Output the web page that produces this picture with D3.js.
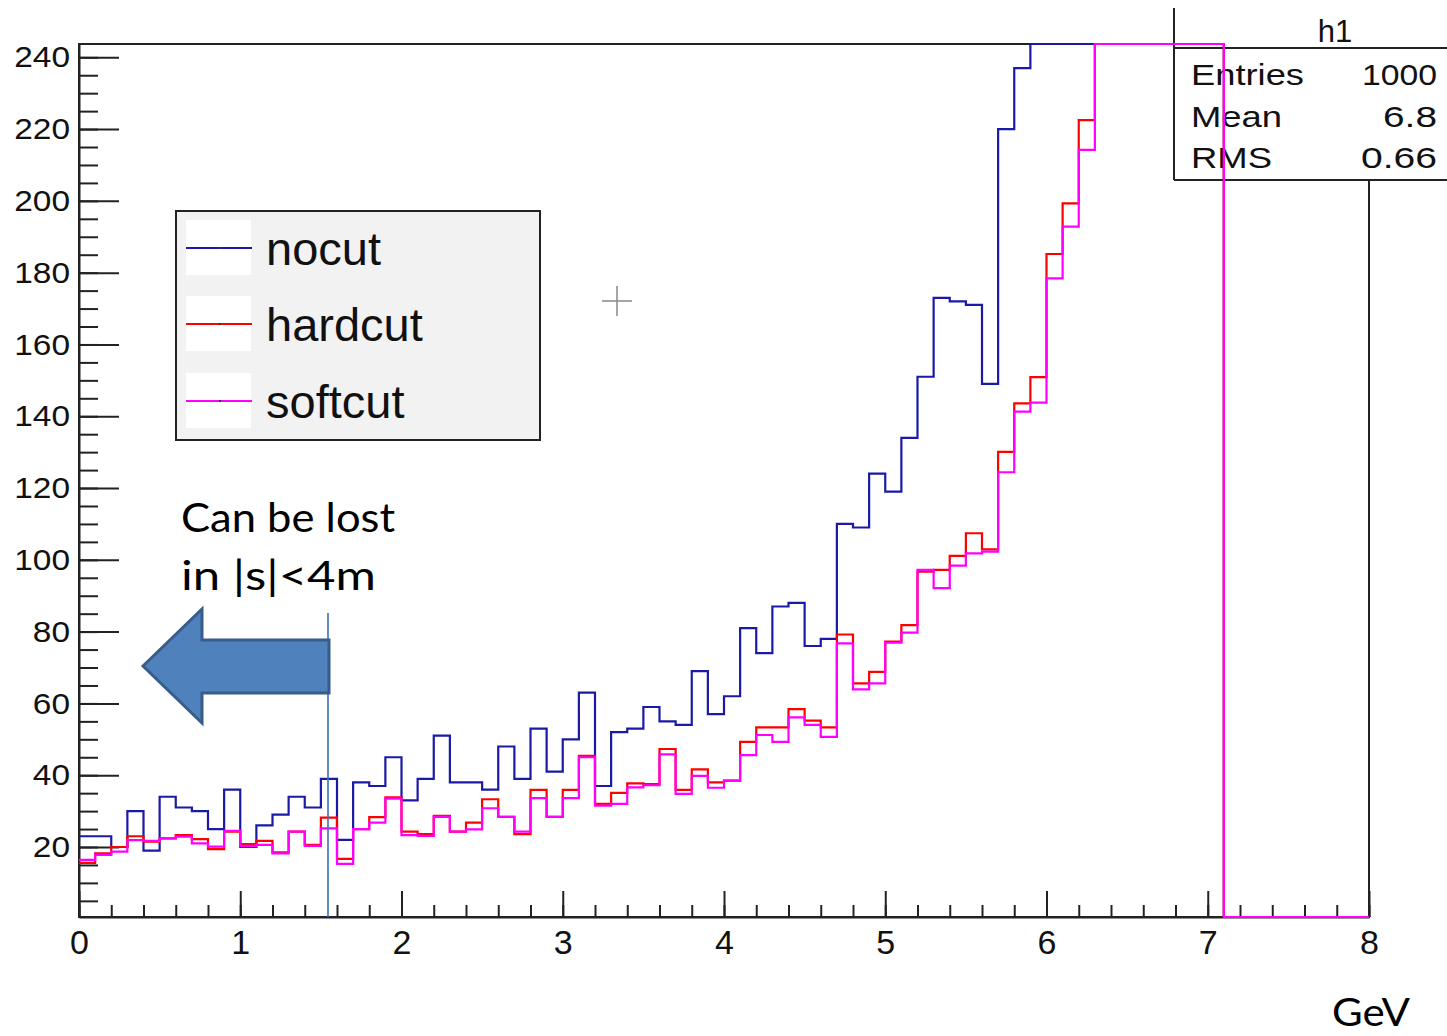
<!DOCTYPE html>
<html>
<head>
<meta charset="utf-8">
<script src="https://cdn.jsdelivr.net/npm/d3@7"></script>
<style>
  body { margin: 0; background: #fff; }
  svg { display: block; }
</style>
</head>
<body>
<div id="chart"></div>
<script>
// histogram h1 : 80 bins of 0.1 GeV from 0 to 8
var binWidth = 0.1;

var nocut = [23, 23, 20, 30, 19, 34, 31, 30, 25, 36,
             20, 26, 29, 34, 31, 39, 22, 38, 37, 45,
             33, 39, 51, 38, 38, 36, 48, 39, 53, 41,
             50, 63, 37, 52, 53, 59, 55, 54, 69, 57,
             62, 81, 74, 87, 88, 76, 78, 110, 109, 124,
             119, 134, 151, 173, 172, 171, 149, 220, 237, 258,
             276, 290, 305, 318, 330, 338, 342, 336, 322, 300,
             268, 0, 0, 0, 0, 0, 0, 0, 0, 0];

var hardcut = [15.6, 18.2, 20, 23, 21.5, 22.4, 23.3, 22.2, 19.4, 24.3,
               20.8, 21.7, 18.5, 24.3, 20.6, 28.2, 16.7, 25, 28.3, 33.8,
               24.3, 23.6, 28.7, 24.3, 26.8, 33.3, 28.4, 23.6, 35.9, 28.4,
               35.9, 45.4, 32, 35.1, 37.7, 37.5, 47.3, 35.9, 41.6, 38,
               38.5, 49.3, 53.3, 53.3, 58.4, 55.2, 53.3, 79.2, 65.6, 68.8,
               77.2, 81.8, 96.7, 97.2, 101.1, 107.4, 102.9, 130.1, 143.6, 150.9,
               185.2, 199.3, 222.5, 251, 270, 286, 300, 310, 314, 306,
               282, 0, 0, 0, 0, 0, 0, 0, 0, 0];

var softcut = [16.4, 17.8, 18.7, 21.9, 21.7, 22.4, 22.9, 21, 20.1, 24.5,
               20.3, 20.6, 18.2, 24.3, 20.3, 25.2, 15.3, 25, 26.8, 33.5,
               23.3, 23.1, 28.4, 24.3, 24.9, 30.8, 28.4, 24.3, 33.6, 28.4,
               33.6, 45, 31.5, 32, 36.6, 37.2, 45.8, 34.8, 39.8, 36.5,
               38.5, 45.6, 51.2, 49.3, 56.1, 54, 50.7, 76.7, 63.9, 65.6,
               76.9, 79.7, 97.2, 92.1, 98.4, 101.8, 102.3, 124.4, 141.3, 143.8,
               178.4, 192.8, 214.2, 248, 266, 281, 296, 306, 311, 304,
               280, 0, 0, 0, 0, 0, 0, 0, 0, 0];

var seriesNames = ["nocut", "hardcut", "softcut"];
var seriesColors = ["#1a1aa6", "#ff0000", "#ff00ff"];

var yTicks = [20, 40, 60, 80, 100, 120, 140, 160, 180, 200, 220, 240];
var xTicks = [0, 1, 2, 3, 4, 5, 6, 7, 8];

var statNames = ["Entries", "Mean", "RMS"];
var statValues = ["1000", "6.8", "0.66"];

var w = 1447,
    h = 1036;

var xScale = d3.scaleLinear().domain([0, 8]).range([79, 1369]);
var yScale = d3.scaleLinear().domain([0.5, 243.7]).range([917, 44]).clamp(true);

var svg = d3.select("#chart")
    .append("svg")
    .attr("width", w)
    .attr("height", h)
    .style("font-family", "'Liberation Sans', Arial, sans-serif");

// frame
svg.append("rect")
    .attr("x", xScale(0)).attr("y", yScale.range()[1])
    .attr("width", xScale(8) - xScale(0))
    .attr("height", yScale.range()[0] - yScale.range()[1])
    .attr("fill", "none")
    .attr("stroke", "#222")
    .attr("stroke-width", 2);

// y axis: major + minor ticks drawn inward
var yMinor = d3.range(5, 243, 5);
svg.append("g")
    .attr("transform", "translate(" + xScale(0) + ",0)")
    .call(d3.axisLeft(yScale).tickValues(yMinor).tickSize(-19).tickSizeOuter(0).tickFormat(""))
    .call(function (g) { g.select(".domain").remove(); })
    .selectAll("line").attr("stroke", "#222").attr("stroke-width", 2);

var yAxis = svg.append("g")
    .attr("transform", "translate(" + xScale(0) + ",0)")
    .call(d3.axisLeft(yScale).tickValues(yTicks).tickSize(-40).tickSizeOuter(0).tickPadding(9));
yAxis.select(".domain").attr("stroke", "#222").attr("stroke-width", 2);
yAxis.selectAll("line").attr("stroke", "#222").attr("stroke-width", 2);
yAxis.selectAll("text")
    .attr("font-size", 30)
    .attr("font-family", "'Liberation Sans', Arial, sans-serif")
    .attr("fill", "#111")
    .attr("textLength", function (d) { return String(d).length * 18.6; })
    .attr("lengthAdjust", "spacingAndGlyphs");

// x axis
var xMinor = d3.range(0, 8.01, 0.2);
svg.append("g")
    .attr("transform", "translate(0," + yScale.range()[0] + ")")
    .call(d3.axisBottom(xScale).tickValues(xMinor).tickSize(-12).tickSizeOuter(0).tickFormat(""))
    .call(function (g) { g.select(".domain").remove(); })
    .selectAll("line").attr("stroke", "#222").attr("stroke-width", 2);

var xAxis = svg.append("g")
    .attr("transform", "translate(0," + yScale.range()[0] + ")")
    .call(d3.axisBottom(xScale).tickValues(xTicks).tickSize(-26).tickSizeOuter(0).tickPadding(13).tickFormat(d3.format("d")));
xAxis.select(".domain").attr("stroke", "#222").attr("stroke-width", 2);
xAxis.selectAll("line").attr("stroke", "#222").attr("stroke-width", 2);
xAxis.selectAll("text")
    .attr("font-size", 34)
    .attr("font-family", "'Liberation Sans', Arial, sans-serif")
    .attr("fill", "#111");

// stats box
var stats = svg.append("g");
stats.append("rect")
    .attr("x", 1174).attr("y", 8).attr("width", w - 1174).attr("height", 172)
    .attr("fill", "#fff");
stats.append("line").attr("x1", 1174).attr("x2", 1174).attr("y1", 8).attr("y2", 180)
    .attr("stroke", "#222").attr("stroke-width", 2);
stats.append("line").attr("x1", 1174).attr("x2", w).attr("y1", 48).attr("y2", 48)
    .attr("stroke", "#222").attr("stroke-width", 2);
stats.append("line").attr("x1", 1174).attr("x2", w).attr("y1", 180).attr("y2", 180)
    .attr("stroke", "#222").attr("stroke-width", 2);
stats.append("text")
    .attr("x", 1335).attr("y", 42)
    .attr("text-anchor", "middle")
    .attr("font-size", 31)
    .attr("fill", "#111")
    .text("h1");
var statNameLen = [113, 91, 81];
var statValLen = [75, 54, 76];
stats.selectAll("text.sname")
    .data(statNames)
    .enter()
    .append("text")
    .attr("class", "sname")
    .attr("x", 1191)
    .attr("y", function (d, i) { return 85 + i * 41.5; })
    .attr("font-size", 30)
    .attr("fill", "#111")
    .attr("textLength", function (d, i) { return statNameLen[i]; })
    .attr("lengthAdjust", "spacingAndGlyphs")
    .text(function (d) { return d; });
stats.selectAll("text.sval")
    .data(statValues)
    .enter()
    .append("text")
    .attr("class", "sval")
    .attr("x", 1437)
    .attr("y", function (d, i) { return 85 + i * 41.5; })
    .attr("text-anchor", "end")
    .attr("font-size", 30)
    .attr("fill", "#111")
    .attr("textLength", function (d, i) { return statValLen[i]; })
    .attr("lengthAdjust", "spacingAndGlyphs")
    .text(function (d) { return d; });

// histograms
var allSeries = [nocut, hardcut, softcut];
var line = d3.line()
    .x(function (d) { return xScale(d[0]); })
    .y(function (d) { return yScale(d[1]); })
    .curve(d3.curveStepAfter);

allSeries.forEach(function (vals, k) {
    var pts = vals.map(function (v, i) { return [i * binWidth, v]; });
    pts.push([vals.length * binWidth, vals[vals.length - 1]]);
    svg.append("path")
        .datum(pts)
        .attr("d", line)
        .attr("fill", "none")
        .attr("stroke", seriesColors[k])
        .attr("stroke-width", 2.2);
});

// legend
var legend = svg.append("g");
legend.append("rect")
    .attr("x", 176).attr("y", 211).attr("width", 364).attr("height", 229)
    .attr("fill", "#f2f2f2")
    .attr("stroke", "#222")
    .attr("stroke-width", 2);
var legY = [248, 324, 401];
seriesNames.forEach(function (name, i) {
    legend.append("rect")
        .attr("x", 186).attr("y", legY[i] - 28).attr("width", 65).attr("height", 55)
        .attr("fill", "#fff");
    legend.append("line")
        .attr("x1", 186).attr("x2", 252).attr("y1", legY[i]).attr("y2", legY[i])
        .attr("stroke", seriesColors[i]).attr("stroke-width", 2);
    legend.append("rect")
        .attr("x", 219).attr("y", legY[i] - 1).attr("width", 2).attr("height", 2)
        .attr("fill", "#333");
    legend.append("text")
        .attr("x", 266).attr("y", legY[i] + 17)
        .attr("font-size", 47)
        .attr("fill", "#111")
        .text(name);
});

// cursor cross
svg.append("line").attr("x1", 602).attr("x2", 632).attr("y1", 301).attr("y2", 301)
    .attr("stroke", "#888").attr("stroke-width", 1.5);
svg.append("line").attr("x1", 617).attr("x2", 617).attr("y1", 286).attr("y2", 316)
    .attr("stroke", "#888").attr("stroke-width", 1.5);

// annotation: cut line, arrow and text
svg.append("line")
    .attr("x1", 328).attr("x2", 328).attr("y1", 613).attr("y2", yScale.range()[0])
    .attr("stroke", "#3d6fb8").attr("stroke-width", 1.6);

svg.append("polygon")
    .attr("points", "143,666 202,609 202,640 329,640 329,693 202,693 202,723")
    .attr("fill", "#4f81bd")
    .attr("stroke", "#385d8a")
    .attr("stroke-width", 3)
    .attr("stroke-linejoin", "miter");

var note = svg.append("g")
    .style("font-family", "Lato, 'Open Sans', sans-serif")
    .attr("fill", "#000");
note.append("text").attr("x", 181).attr("y", 532).attr("font-size", 40)
    .attr("textLength", 214).attr("lengthAdjust", "spacingAndGlyphs")
    .text("Can be lost");
note.append("text").attr("x", 181).attr("y", 590).attr("font-size", 40)
    .attr("textLength", 195).attr("lengthAdjust", "spacingAndGlyphs")
    .text("in |s|<4m");
note.append("text").attr("x", 1332).attr("y", 1026).attr("font-size", 38)
    .attr("textLength", 78).attr("lengthAdjust", "spacingAndGlyphs")
    .text("GeV");
</script>
</body>
</html>
